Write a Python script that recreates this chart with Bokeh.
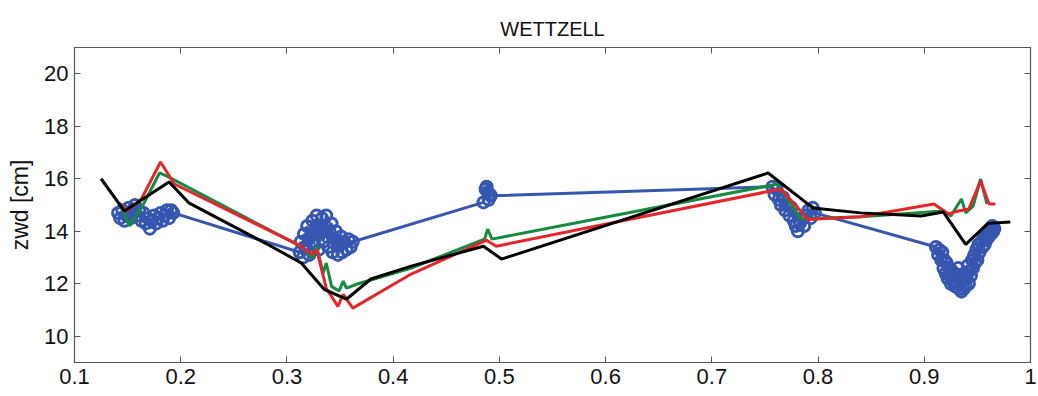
from bokeh.plotting import figure
from bokeh.models import Range1d, LinearAxis, FixedTicker, Title
from bokeh.embed import file_html
from bokeh.resources import INLINE

# ---- data ----
black_x = [0.125, 0.147, 0.189, 0.208, 0.285, 0.3135, 0.335, 0.356, 0.379, 0.417, 0.485, 0.502,
           0.753, 0.795, 0.840, 0.897, 0.918, 0.939, 0.960, 0.981]
black_y = [16.0, 14.77, 15.88, 15.07, 13.43, 12.79, 11.79, 11.41, 12.18, 12.67, 13.43, 12.94,
           16.22, 14.89, 14.7, 14.58, 14.73, 13.5, 14.3, 14.35]

red_x = [0.142, 0.149, 0.163, 0.181, 0.194, 0.3135, 0.323, 0.328, 0.337, 0.348, 0.353, 0.362,
         0.417, 0.488, 0.497, 0.765, 0.782, 0.790, 0.840, 0.909, 0.923, 0.932, 0.942, 0.953,
         0.961, 0.967]
red_y = [15.08, 14.77, 15.23, 16.64, 15.8, 13.43, 13.13, 13.3, 11.83, 11.14, 11.6, 11.07,
         12.37, 13.66, 13.43, 15.61, 14.85, 14.45, 14.55, 15.04, 14.66, 14.77, 14.85, 15.92,
         15.04, 15.04]

green_x = [0.144, 0.152, 0.165, 0.180, 0.187, 0.316, 0.323, 0.328, 0.334, 0.337, 0.342, 0.349,
           0.353, 0.356, 0.367, 0.417, 0.486, 0.489, 0.493, 0.762, 0.784, 0.840, 0.918, 0.925,
           0.935, 0.939, 0.946, 0.953, 0.959]
green_y = [14.96, 14.2, 15.04, 16.22, 16.1, 13.36, 12.98, 13.43, 12.4, 12.79, 11.9, 11.72,
           12.1, 11.83, 12.0, 12.6, 13.7, 14.08, 13.7, 15.8, 14.47, 14.55, 14.77, 14.58,
           15.23, 14.7, 14.96, 15.99, 15.04]

blue_x = [0.141, 0.143, 0.145, 0.147, 0.149, 0.151, 0.153, 0.155, 0.157, 0.159, 0.161, 0.163,
          0.165, 0.167, 0.169, 0.171, 0.173, 0.175, 0.177, 0.179, 0.181, 0.183, 0.185, 0.187,
          0.189, 0.191, 0.193,
          0.312, 0.313, 0.315, 0.316, 0.318, 0.319, 0.321, 0.322, 0.324, 0.325, 0.327, 0.328,
          0.330, 0.331, 0.333, 0.334, 0.336, 0.337, 0.339, 0.340, 0.342, 0.343, 0.345, 0.346,
          0.348, 0.349, 0.351, 0.352, 0.354, 0.356, 0.358, 0.360, 0.362,
          0.485, 0.487, 0.488, 0.489, 0.490, 0.491, 0.492,
          0.757, 0.759, 0.761, 0.763, 0.765, 0.767, 0.769, 0.771, 0.773, 0.775, 0.777, 0.779,
          0.781, 0.783, 0.785, 0.787, 0.789, 0.791, 0.793, 0.795, 0.797,
          0.911, 0.913, 0.914, 0.916, 0.917, 0.918, 0.919, 0.920, 0.921, 0.922, 0.923, 0.924,
          0.925, 0.926, 0.927, 0.928, 0.929, 0.930, 0.931, 0.932, 0.933, 0.934, 0.935, 0.936,
          0.937, 0.938, 0.939, 0.940, 0.941, 0.942, 0.943, 0.944, 0.945, 0.946, 0.947, 0.948,
          0.949, 0.950, 0.951, 0.952, 0.954, 0.955, 0.956, 0.957, 0.958, 0.959, 0.960, 0.961,
          0.962, 0.963, 0.964, 0.965, 0.966]
blue_y = [14.7, 14.5, 14.8, 14.4, 14.6, 14.9, 14.5, 14.8, 15.0, 14.6, 14.8, 14.4,
          14.7, 14.3, 14.5, 14.1, 14.4, 14.6, 14.3, 14.5, 14.7, 14.4, 14.6, 14.8,
          14.5, 14.8, 14.7,
          13.2, 13.6, 13.0, 13.9, 13.4, 14.2, 13.1, 13.8, 14.4, 13.5, 14.1, 14.6,
          13.3, 13.9, 14.5, 13.6, 14.2, 14.6, 13.4, 14.0, 14.3, 13.2, 13.7, 14.0,
          13.1, 13.5, 13.8, 13.2, 13.6, 13.3, 13.7, 13.4, 13.6,
          15.1, 15.6, 15.7, 15.5, 15.2, 15.4, 15.35,
          15.7, 15.4, 15.6, 15.2, 15.0, 15.3, 14.8, 15.0, 14.6, 14.9, 14.4, 14.2,
          14.0, 14.3, 14.5, 14.2, 14.6, 14.8, 14.5, 14.9, 14.7,
          13.4, 13.1, 13.3, 12.9, 13.2, 12.6, 12.9, 12.4, 12.8, 12.2, 12.6, 12.3,
          12.0, 12.5, 12.1, 12.4, 11.9, 12.3, 12.0, 12.6, 11.8, 12.2, 11.7, 12.1,
          11.8, 12.4, 11.9, 12.2, 12.7, 12.0, 12.5, 12.3, 12.9, 12.6, 13.1, 12.8,
          13.3, 12.9, 13.5, 13.2, 13.6, 13.4, 13.8, 13.5, 13.9, 13.7, 14.0, 13.8,
          14.1, 13.9, 14.2, 14.0, 14.1]

x_ticks = [0.1, 0.2, 0.3, 0.4, 0.5, 0.6, 0.7, 0.8, 0.9, 1.0]
y_ticks = [10, 12, 14, 16, 18, 20]
x_labels = {0.1: "0.1", 0.2: "0.2", 0.3: "0.3", 0.4: "0.4", 0.5: "0.5", 0.6: "0.6",
            0.7: "0.7", 0.8: "0.8", 0.9: "0.9", 1.0: "1"}

FONT = "Liberation Sans"
AX = "#555555"

p = figure(width=1038, height=396, output_backend="svg", toolbar_location=None,
           x_range=Range1d(0.1, 1.0), y_range=Range1d(9, 21),
           min_border_left=74, min_border_right=8, min_border_top=47, min_border_bottom=34)
p.title = Title(text="WETTZELL", align="center", text_font=FONT, text_font_size="20px",
                text_font_style="normal", text_color="#111111", standoff=16)
p.grid.visible = False
p.outline_line_color = AX
p.outline_line_width = 1.2
p.background_fill_color = "white"
p.border_fill_color = "white"

for ax in p.xaxis:
    ax.ticker = FixedTicker(ticks=x_ticks)
    ax.major_label_overrides = x_labels
for ax in p.yaxis:
    ax.ticker = FixedTicker(ticks=y_ticks)
    ax.axis_label = "zwd [cm]"
    ax.axis_label_text_font = FONT
    ax.axis_label_text_font_size = "23px"
    ax.axis_label_text_font_style = "normal"
    ax.axis_label_text_color = "#111111"
    ax.axis_label_standoff = 8

for ax in list(p.xaxis) + list(p.yaxis):
    ax.major_label_text_font = FONT
    ax.major_label_text_font_size = "22px"
    ax.major_label_text_color = "#111111"
    ax.axis_line_color = AX
    ax.major_tick_line_color = AX
    ax.major_tick_in = 6
    ax.major_tick_out = 0
    ax.minor_tick_line_color = None
    ax.major_label_standoff = 6

ax_top = LinearAxis(ticker=FixedTicker(ticks=x_ticks),
                    major_label_overrides={t: "" for t in x_ticks},
                    major_label_standoff=0, major_label_text_font_size="4px",
                    major_tick_in=6, major_tick_out=0, minor_tick_line_color=None,
                    axis_line_color=AX, major_tick_line_color=AX)
ax_right = LinearAxis(ticker=FixedTicker(ticks=y_ticks),
                      major_label_overrides={t: "" for t in y_ticks},
                      major_label_standoff=0, major_label_text_font_size="4px",
                      major_tick_in=6, major_tick_out=0, minor_tick_line_color=None,
                      axis_line_color=AX, major_tick_line_color=AX)
p.add_layout(ax_top, "above")
p.add_layout(ax_right, "right")

BLUE = "#3656b0"
p.line(blue_x, blue_y, line_color=BLUE, line_width=3)
p.scatter(blue_x, blue_y, marker="circle", size=11, fill_color=None,
          line_color=BLUE, line_width=3)
p.line(green_x, green_y, line_color="#168a3e", line_width=3)
p.line(red_x, red_y, line_color="#e4262a", line_width=3)
p.line(black_x, black_y, line_color="#000000", line_width=3)

open("out.html", "w").write(file_html(p, INLINE))
